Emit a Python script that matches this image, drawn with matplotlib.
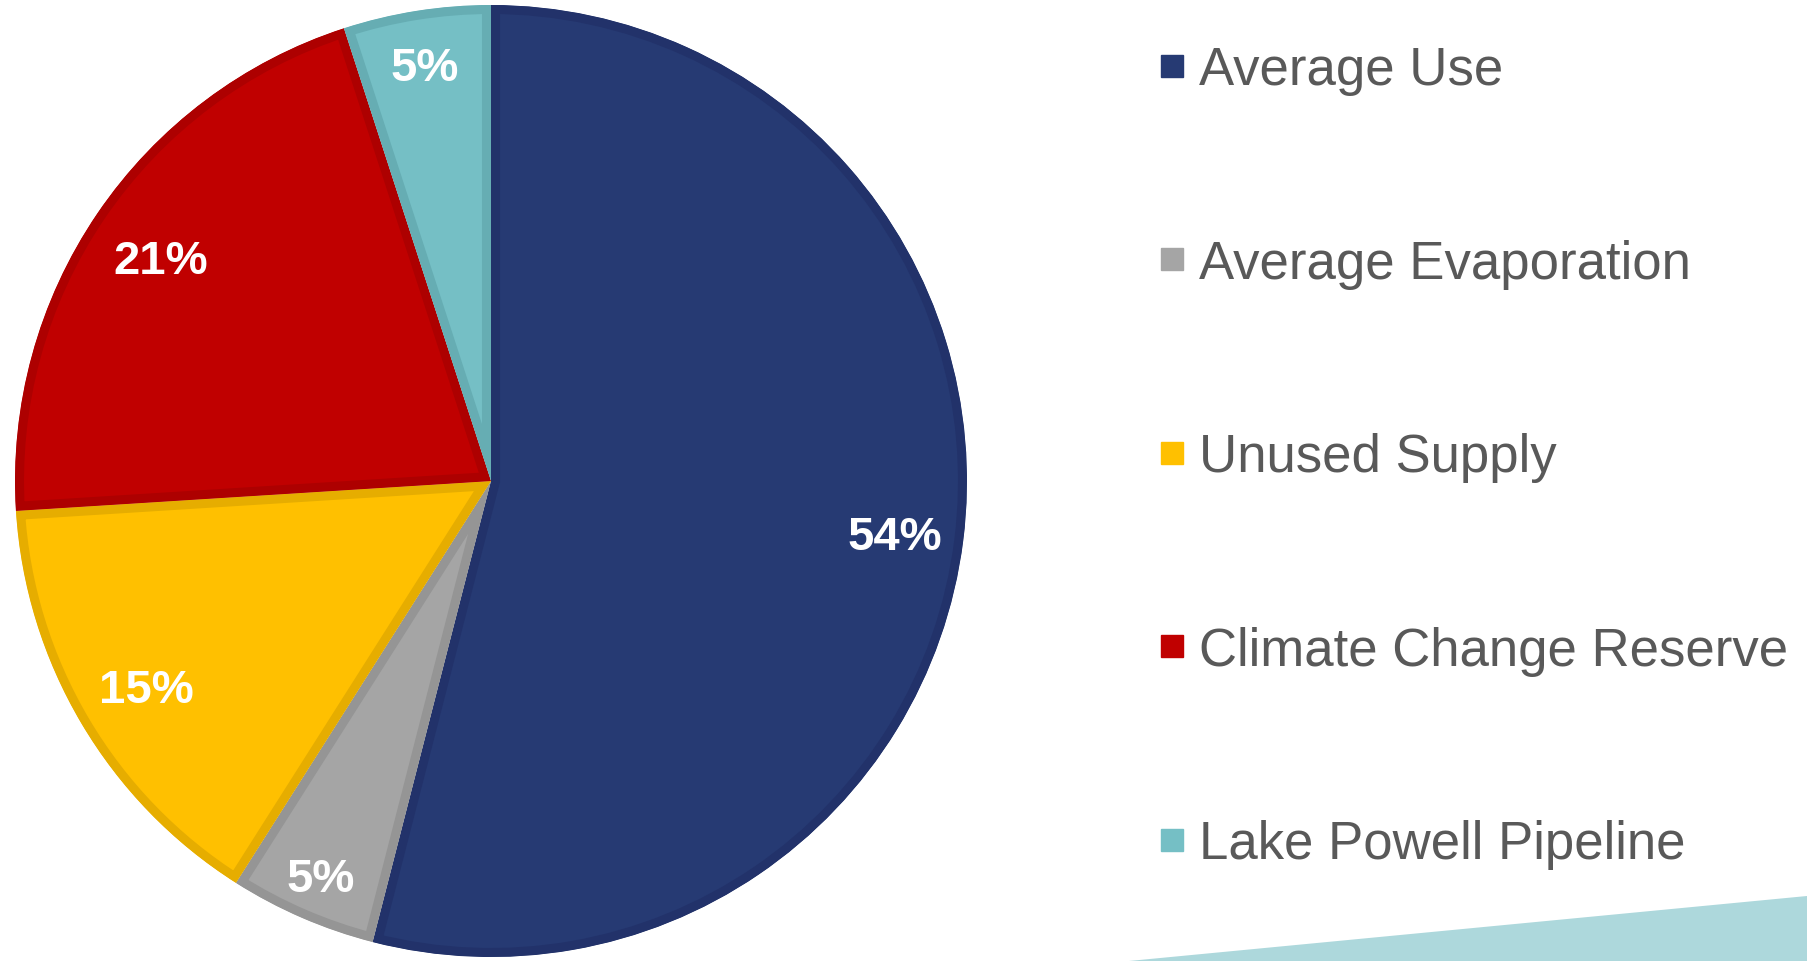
import numpy as np
import matplotlib.pyplot as plt
from matplotlib.lines import Line2D
from matplotlib.patches import Polygon

labels = ['Average Use', 'Average Evaporation', 'Unused Supply',
          'Climate Change Reserve', 'Lake Powell Pipeline']
shares = [54, 5, 15, 21, 5]
colors = ['#263A73', '#A5A5A5', '#FFC000', '#C00000', '#75BFC5']
edges = ['#22326A', '#959595', '#E6AD00', '#AD0000', '#66ADB3']
label_r = [0.855, 0.9, 0.84, 0.84, 0.89]  # radial position of the % labels

plt.rcParams['font.family'] = ['Liberation Sans', 'DejaVu Sans']

W, H = 1807, 962
fig = plt.figure(figsize=(W / 100, H / 100), dpi=100)

# decorative teal band at the bottom right
fig.patches.append(Polygon([[1129 / W, 0], [1.0, 65 / H], [1.0, 0]],
                           closed=True, transform=fig.transFigure,
                           facecolor='#ADD8DC', edgecolor='none'))

# pie axes: centre (491, 482) px, radius 476 px
cx, cy, R = 491, 482, 476
ax = fig.add_axes([(cx - R) / W, (H - cy - R) / H, 2 * R / W, 2 * R / H])
wedges, texts, autotexts = ax.pie(
    shares, colors=colors, startangle=90, counterclock=False,
    autopct='%d%%', pctdistance=0.85,
    wedgeprops=dict(linewidth=13),
    textprops=dict(color='white', fontsize=34, fontweight='bold'))
for w, ec, t, r in zip(wedges, edges, autotexts, label_r):
    w.set_edgecolor(ec)
    w.set_clip_on(True)
    w.set_clip_path(w)  # keep only the inner half of the border
    ang = np.deg2rad((w.theta1 + w.theta2) / 2)
    t.set_position((r * np.cos(ang), r * np.sin(ang)))
    t.set_va('center_baseline')
ax.set_xlim(-1.0, 1.0)
ax.set_ylim(-1.0, 1.0)
ax.set_aspect('equal')
ax.axis('off')

handles = [Line2D([], [], linestyle='none', marker='s', markersize=16,
                  markerfacecolor=c, markeredgecolor=c) for c in colors]
fig.legend(handles, labels, loc='upper left',
           bbox_to_anchor=(1159 / W, 1 - 46 / H), frameon=False,
           fontsize=38, labelcolor='#595959', labelspacing=2.72,
           handlelength=0.5, handletextpad=0.25, borderpad=0, borderaxespad=0)

fig.savefig('out.png', dpi=100, facecolor='white')
